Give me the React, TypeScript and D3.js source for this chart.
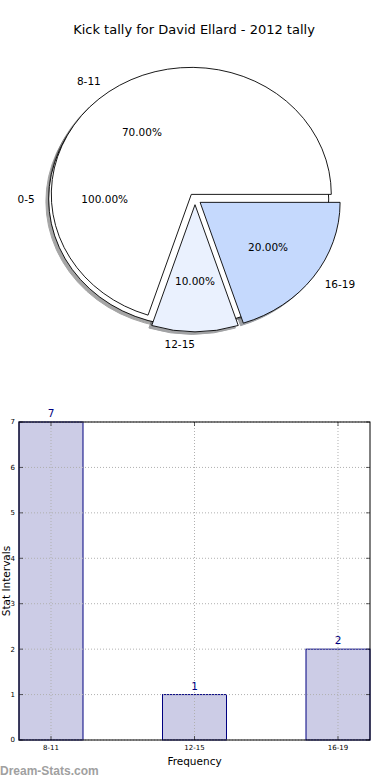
import React from 'react';
import * as d3 from 'd3';

// pie data (shares as drawn by the original, 0-5 came out as a full circle)
const pieLabels = ['0-5', '8-11', '12-15', '16-19'];
const pieShares = [1.0, 0.7, 0.1, 0.2];
const pieColors = ['#ffffff', '#ffffff', '#eaf1fe', '#c5d9fd'];

// bar data
const barCategories = ['8-11', '12-15', '16-19'];
const barValues = [7, 1, 2];
const yTicks = [0, 1, 2, 3, 4, 5, 6, 7];

const W = 390;
const H = 780;
const font = 'DejaVu Sans, sans-serif';

const PieChart = () => {
  const cx = 195, cy = 199, rx = 140, ry = 127;
  const explode = 0.045;
  const rad = (deg: number) => (deg * Math.PI) / 180;
  const arc = d3.arc<any>().innerRadius(0).outerRadius(1);

  let acc = 0;
  const wedges = pieShares.map((s, i) => {
    const t1 = acc * 360;
    const t2 = (acc + s) * 360;
    acc += s;
    const mid = ((t1 + t2) / 2) % 360;
    const c = Math.cos(rad(mid));
    const sn = Math.sin(rad(mid));
    const ox = cx + explode * rx * c;
    const oy = cy - explode * ry * sn;
    const d = arc({ startAngle: rad(90 - t2), endAngle: rad(90 - t1) }) as string;
    const lx = ox + 1.1 * rx * c;
    const ly = oy - 1.1 * ry * sn;
    const px = ox + 0.6 * rx * c;
    const py = oy - 0.6 * ry * sn;
    const col = d3.rgb(pieColors[i]);
    const shadow = d3.rgb(col.r * 0.3, col.g * 0.3, col.b * 0.3).toString();
    return { d, ox, oy, lx, ly, px, py, anchor: lx - ox > 0 ? 'start' : 'end', shadow, i };
  });

  return (
    <g>
      {wedges.map(w => (
        <path key={'s' + w.i} d={w.d}
          transform={`translate(${w.ox - 0.02 * rx},${w.oy + 0.02 * ry}) scale(${rx},${ry})`}
          fill={w.shadow} stroke={w.shadow} strokeWidth={1} vectorEffect="non-scaling-stroke"
          opacity={0.5} />
      ))}
      {wedges.map(w => (
        <path key={'w' + w.i} d={w.d}
          transform={`translate(${w.ox},${w.oy}) scale(${rx},${ry})`}
          fill={pieColors[w.i]} stroke="#000" strokeWidth={0.9} vectorEffect="non-scaling-stroke" />
      ))}
      {wedges.map(w => (
        <g key={'t' + w.i} fontFamily={font} fontSize={10.5} fill="#000">
          <text x={w.lx} y={w.ly} dy="0.35em" textAnchor={w.anchor}>{pieLabels[w.i]}</text>
          <text x={w.px} y={w.py} dy="0.35em" textAnchor="middle">
            {d3.format('.2f')(pieShares[w.i] * 100) + '%'}
          </text>
        </g>
      ))}
    </g>
  );
};

const BarChart = () => {
  const left = 19, right = 370, top = 422, bottom = 740;
  const x = d3.scaleBand<string>().domain(barCategories).range([left, right])
    .paddingInner(0.554).paddingOuter(0);
  const y = d3.scaleLinear().domain([0, 7]).range([bottom, top]);
  const grid = { stroke: '#b0b0b0', strokeWidth: 1, strokeDasharray: '1,2' };

  return (
    <g fontFamily={font}>
      {barCategories.map((c, i) => (
        <rect key={c} x={x(c)} y={y(barValues[i])} width={x.bandwidth()}
          height={y(0) - y(barValues[i])} fill="#ccccE6" stroke="#000080" strokeWidth={1} />
      ))}
      {yTicks.map(t => (
        <g key={'y' + t}>
          <line x1={left} x2={right} y1={y(t)} y2={y(t)} {...grid} />
          <line x1={left} x2={left + 4} y1={y(t)} y2={y(t)} stroke="#000" strokeWidth={0.6} />
          <line x1={right - 4} x2={right} y1={y(t)} y2={y(t)} stroke="#000" strokeWidth={0.6} />
          <text x={left - 4} y={y(t)} dy="0.35em" textAnchor="end" fontSize={7}>{t}</text>
        </g>
      ))}
      {barCategories.map(c => {
        const cxp = (x(c) as number) + x.bandwidth() / 2;
        return (
          <g key={'x' + c}>
            <line x1={cxp} x2={cxp} y1={top} y2={bottom} {...grid} />
            <line x1={cxp} x2={cxp} y1={bottom} y2={bottom - 4} stroke="#000" strokeWidth={0.6} />
            <line x1={cxp} x2={cxp} y1={top} y2={top + 4} stroke="#000" strokeWidth={0.6} />
            <text x={cxp} y={bottom + 8} dy="0.35em" textAnchor="middle" fontSize={7}>{c}</text>
          </g>
        );
      })}
      {barCategories.map((c, i) => (
        <text key={'v' + c} x={(x(c) as number) + x.bandwidth() / 2} y={y(barValues[i]) - 5}
          textAnchor="middle" fontSize={10.5} fill="#000080">{barValues[i]}</text>
      ))}
      <rect x={left} y={top} width={right - left} height={bottom - top} fill="none" stroke="#000" strokeWidth={1} />
      <text x={(left + right) / 2} y={765} textAnchor="middle" fontSize={10.5}>Frequency</text>
      <text transform={`translate(10,${(top + bottom) / 2}) rotate(-90)`} textAnchor="middle" fontSize={10.5}>
        Stat Intervals
      </text>
    </g>
  );
};

export default function App() {
  return (
    <svg width={W} height={H} style={{ position: 'absolute', left: 0, top: 0, background: '#fff' }}>
      <rect width={W} height={H} fill="#fff" />
      <text x={194} y={34} textAnchor="middle" fontFamily={font} fontSize={13}>
        Kick tally for David Ellard - 2012 tally
      </text>
      <PieChart />
      <BarChart />
      <text x={0} y={775} fontFamily="Liberation Sans, Arial, sans-serif" fontWeight="bold"
        fontSize={12} fill="#a0a0a0">Dream-Stats.com</text>
    </svg>
  );
}
